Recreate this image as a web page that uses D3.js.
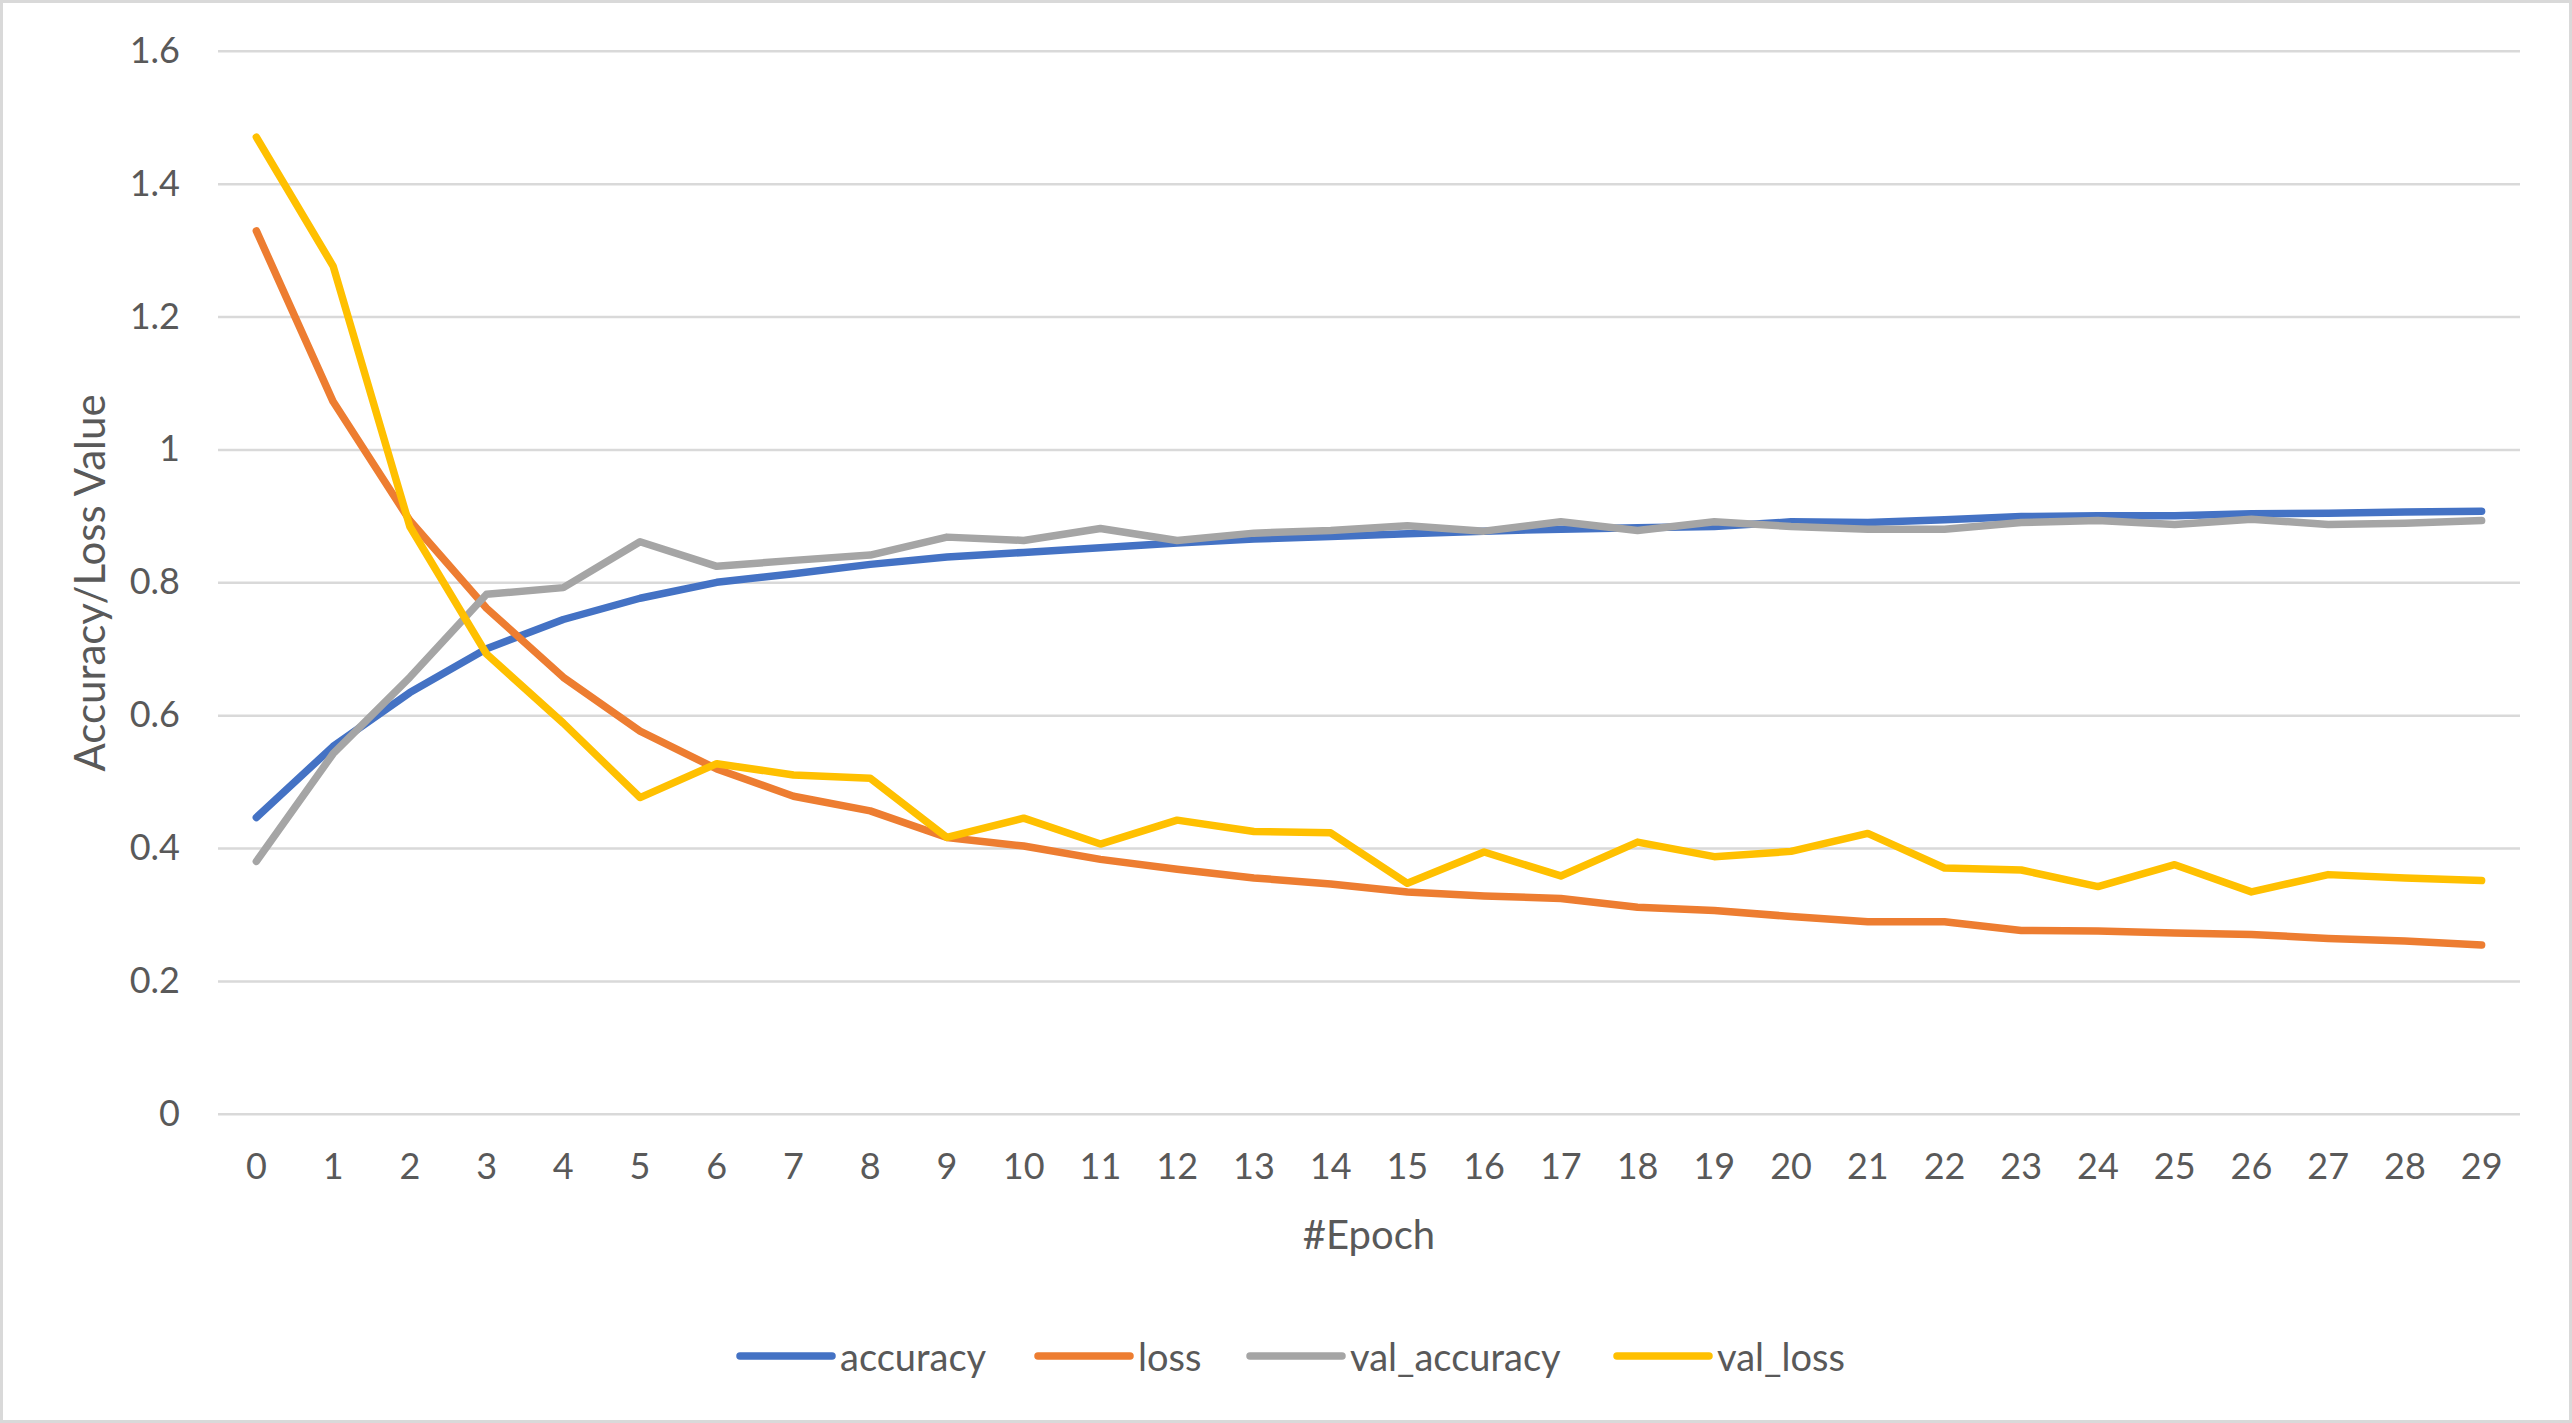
<!DOCTYPE html>
<html>
<head>
<meta charset="utf-8">
<script src="https://cdn.jsdelivr.net/npm/d3@7"></script>
<style>
  html, body { margin: 0; padding: 0; background: #fff; }
  svg { display: block; }
  text { font-family: "Lato", "Liberation Sans", sans-serif; fill: #595959; }
</style>
</head>
<body>
<svg id="chart" width="2572" height="1423"></svg>
<script>
const epochs = d3.range(0, 30);
const seriesNames = ["accuracy", "loss", "val_accuracy", "val_loss"];
const seriesColors = ["#4472C4", "#ED7D31", "#A5A5A5", "#FFC000"];
const yTicks = [0, 0.2, 0.4, 0.6, 0.8, 1, 1.2, 1.4, 1.6];

const accuracy = [0.446, 0.553, 0.634, 0.700, 0.744, 0.776, 0.800, 0.813, 0.827, 0.838,
                  0.845, 0.852, 0.859, 0.865, 0.869, 0.873, 0.877, 0.880, 0.882, 0.884,
                  0.891, 0.890, 0.894, 0.899, 0.900, 0.900, 0.903, 0.904, 0.906, 0.907];
const loss = [1.329, 1.072, 0.893, 0.761, 0.657, 0.576, 0.519, 0.478, 0.456, 0.416,
              0.403, 0.383, 0.368, 0.355, 0.346, 0.334, 0.328, 0.324, 0.311, 0.306,
              0.297, 0.289, 0.289, 0.276, 0.275, 0.272, 0.270, 0.264, 0.260, 0.254];
const val_accuracy = [0.380, 0.542, 0.657, 0.782, 0.792, 0.861, 0.824, 0.833, 0.841, 0.868,
                      0.863, 0.881, 0.863, 0.874, 0.878, 0.885, 0.877, 0.891, 0.878, 0.891,
                      0.884, 0.880, 0.880, 0.890, 0.893, 0.887, 0.895, 0.887, 0.889, 0.893];
const val_loss = [1.470, 1.276, 0.884, 0.692, 0.588, 0.476, 0.527, 0.510, 0.505, 0.416,
                  0.445, 0.406, 0.442, 0.425, 0.423, 0.347, 0.394, 0.358, 0.409, 0.387,
                  0.395, 0.422, 0.370, 0.367, 0.342, 0.375, 0.334, 0.360, 0.355, 0.351];

const seriesValues = [accuracy, loss, val_accuracy, val_loss];

const svg = d3.select("#chart");
const W = 2572, H = 1423;

// outer border
svg.append("rect").attr("x", 1.5).attr("y", 1.5).attr("width", W - 3).attr("height", H - 3)
  .attr("fill", "#fff").attr("stroke", "#d9d9d9").attr("stroke-width", 3);

const plotLeft = 218, plotRight = 2520, plotTop = 50.8, plotBottom = 1113.8;

const x = d3.scaleBand().domain(epochs).range([plotLeft, plotRight]);
const xc = d => x(d) + x.bandwidth() / 2;
const y = d3.scaleLinear().domain([0, 1.6]).range([plotBottom, plotTop]);

// gridlines
const yAxis = d3.axisLeft(y).tickValues(yTicks).tickSize(-(plotRight - plotLeft)).tickPadding(38)
  .tickFormat(d => d3.format("~g")(d));
const gy = svg.append("g").attr("transform", `translate(${plotLeft},0)`).call(yAxis);
gy.select(".domain").remove();
gy.selectAll(".tick line").attr("stroke", "#d9d9d9").attr("stroke-width", 2.5);
gy.selectAll(".tick text").attr("font-size", 36).attr("fill", "#595959")
  .style("font-family", "Lato, 'Liberation Sans', sans-serif");

// x axis labels
const xAxis = d3.axisBottom(x).tickSize(0).tickPadding(40);
const gx = svg.append("g").attr("transform", `translate(0,${plotBottom})`).call(xAxis);
gx.select(".domain").remove();
gx.selectAll(".tick text").attr("font-size", 36).attr("fill", "#595959")
  .style("font-family", "Lato, 'Liberation Sans', sans-serif");

// axis titles
svg.append("text").attr("x", (plotLeft + plotRight) / 2).attr("y", 1234)
  .attr("text-anchor", "middle").attr("dominant-baseline", "central")
  .attr("font-size", 40).text("#Epoch");
svg.append("text").attr("transform", "translate(89,583) rotate(-90)")
  .attr("text-anchor", "middle").attr("dominant-baseline", "central")
  .attr("font-size", 42).text("Accuracy/Loss Value");

// lines
const line = d3.line().x((d, i) => xc(epochs[i])).y(d => y(d));
seriesValues.forEach((vals, k) => {
  svg.append("path").datum(vals).attr("d", line)
    .attr("fill", "none").attr("stroke", seriesColors[k]).attr("stroke-width", 7.5)
    .attr("stroke-linejoin", "round").attr("stroke-linecap", "round");
});

// legend
const legendX = [740, 1038, 1250, 1617];
const legendY = 1356;
seriesNames.forEach((name, k) => {
  const g = svg.append("g").attr("transform", `translate(${legendX[k]},${legendY})`);
  g.append("line").attr("x1", 0).attr("x2", 92).attr("y1", 0).attr("y2", 0)
    .attr("stroke", seriesColors[k]).attr("stroke-width", 7.5).attr("stroke-linecap", "round");
  g.append("text").attr("x", 100).attr("y", 0).attr("dominant-baseline", "central")
    .attr("font-size", 38).text(name);
});
</script>
</body>
</html>
